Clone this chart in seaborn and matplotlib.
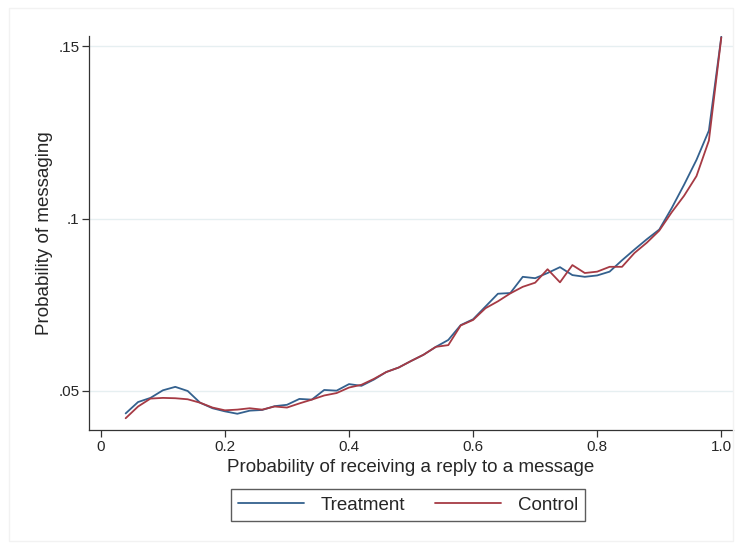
import pandas as pd
import numpy as np
import matplotlib
matplotlib.use("Agg")
import matplotlib.pyplot as plt
import seaborn as sns

# probability of a reply (x) and probability of messaging for each group
reply_prob = [0.04, 0.06, 0.08, 0.10, 0.12, 0.14, 0.16, 0.18, 0.20, 0.22,
              0.24, 0.26, 0.28, 0.30, 0.32, 0.34, 0.36, 0.38, 0.40, 0.42,
              0.44, 0.46, 0.48, 0.50, 0.52, 0.54, 0.56, 0.58, 0.60, 0.62,
              0.64, 0.66, 0.68, 0.70, 0.72, 0.74, 0.76, 0.78, 0.80, 0.82,
              0.84, 0.86, 0.88, 0.90, 0.92, 0.94, 0.96, 0.98, 1.00]

treatment = [0.0435, 0.0468, 0.0480, 0.0502, 0.0512, 0.0500, 0.0466, 0.0450, 0.0441, 0.0434,
             0.0443, 0.0445, 0.0456, 0.0460, 0.0477, 0.0475, 0.0503, 0.0501, 0.0520, 0.0515,
             0.0533, 0.0555, 0.0568, 0.0587, 0.0605, 0.0628, 0.0648, 0.0691, 0.0708, 0.0745,
             0.0782, 0.0784, 0.0831, 0.0827, 0.0842, 0.0859, 0.0836, 0.0831, 0.0835, 0.0846,
             0.0879, 0.0910, 0.0940, 0.0968, 0.1030, 0.1098, 0.1170, 0.1255, 0.1527]

control = [0.0421, 0.0455, 0.0478, 0.0480, 0.0479, 0.0476, 0.0466, 0.0452, 0.0444, 0.0446,
           0.0450, 0.0446, 0.0455, 0.0452, 0.0464, 0.0475, 0.0487, 0.0494, 0.0510, 0.0518,
           0.0535, 0.0555, 0.0568, 0.0587, 0.0605, 0.0628, 0.0633, 0.0690, 0.0706, 0.0740,
           0.0760, 0.0783, 0.0802, 0.0814, 0.0853, 0.0815, 0.0865, 0.0842, 0.0846, 0.0860,
           0.0860, 0.0900, 0.0930, 0.0965, 0.1018, 0.1066, 0.1123, 0.1226, 0.1525]

groups = ['Treatment', 'Control']
colors = {'Treatment': '#34618e', 'Control': '#a63a44'}

df = pd.concat([
    pd.DataFrame({'x': reply_prob, 'y': treatment, 'group': 'Treatment'}),
    pd.DataFrame({'x': reply_prob, 'y': control, 'group': 'Control'}),
])

sns.set_style('white')
plt.rcParams['font.family'] = ['Liberation Sans', 'DejaVu Sans']

fig = plt.figure(figsize=(7.42, 5.46), dpi=100)
ax = fig.add_axes([0.12, 0.2125, 0.868, 0.7215])

sns.lineplot(data=df, x='x', y='y', hue='group', hue_order=groups,
             palette=colors, linewidth=1.3, ax=ax, legend=False)

ax.set_xlim(-0.019, 1.019)
ax.set_ylim(0.0387, 0.1529)
ax.set_xticks([0, 0.2, 0.4, 0.6, 0.8, 1.0])
ax.set_xticklabels(['0', '0.2', '0.4', '0.6', '0.8', '1.0'])
ax.set_yticks([0.05, 0.10, 0.15])
ax.set_yticklabels(['.05', '.1', '.15'])
ax.yaxis.grid(True, color='#e6eff1', linewidth=1.0)
ax.set_axisbelow(True)

for side in ['top', 'right']:
    ax.spines[side].set_visible(False)
for side in ['left', 'bottom']:
    ax.spines[side].set_color('#333333')
    ax.spines[side].set_linewidth(0.9)
ax.tick_params(axis='both', direction='out', length=5, width=0.9,
               color='#333333', labelsize=11, bottom=True, left=True, pad=2)

ax.set_xlabel('Probability of receiving a reply to a message', fontsize=13.5, labelpad=4)
ax.set_ylabel('Probability of messaging', fontsize=13.5, labelpad=4)

handles = [plt.Line2D([], [], color=colors[g], linewidth=1.3) for g in groups]
fig.legend(handles, groups, loc='center', bbox_to_anchor=(0.55, 0.075), ncol=2,
           fontsize=13.5, frameon=True, fancybox=False, edgecolor='#333333',
           handlelength=3.5, handletextpad=0.9, columnspacing=1.6,
           borderpad=0.4)

# faint outer frame of the graph region
fig.patches.append(plt.Rectangle((0.012, 0.01), 0.976, 0.975, transform=fig.transFigure,
                                 fill=False, edgecolor='#f2f2f2', linewidth=1))

plt.savefig('out.png', dpi=100)
